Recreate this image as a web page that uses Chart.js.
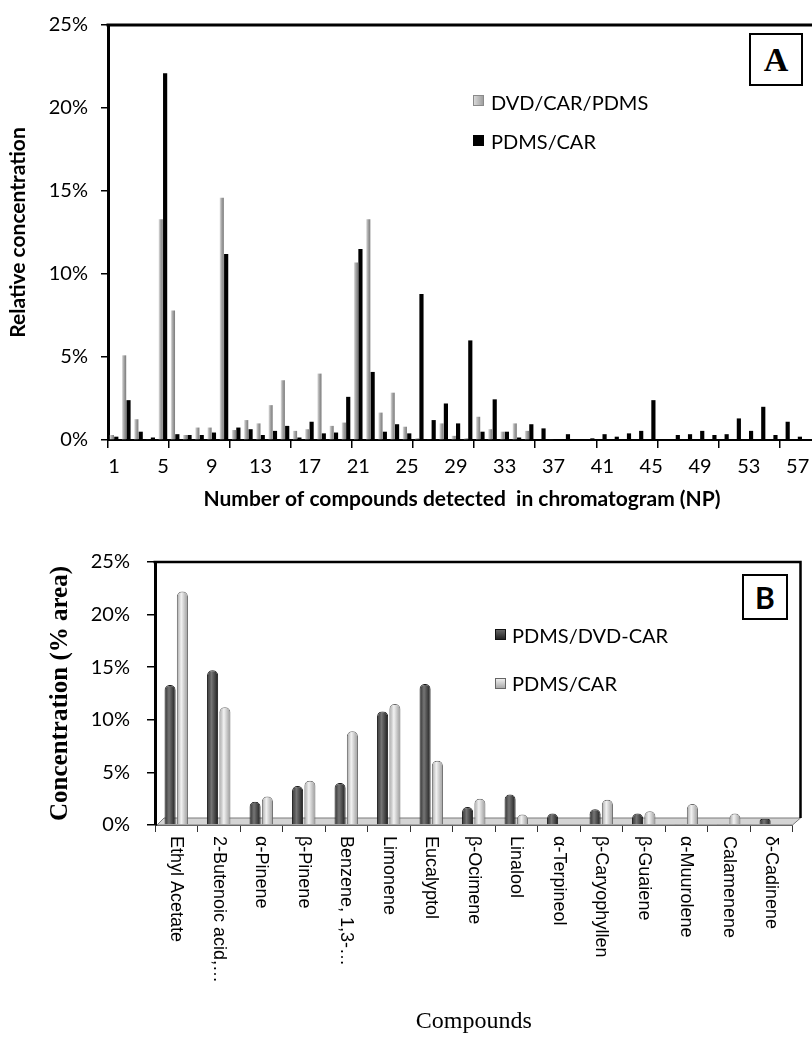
<!DOCTYPE html>
<html>
<head>
<meta charset="utf-8">
<title>Relative concentration of compounds</title>
<script src="https://cdn.jsdelivr.net/npm/chart.js@4.4.1/dist/chart.umd.min.js"></script>
<style>
  html, body { margin: 0; padding: 0; background: #fff; overflow: hidden; }
  #page { position: relative; width: 812px; height: 1047px; overflow: hidden; }
  canvas { position: absolute; left: 0; }
  #chartA { top: 0; }
  #chartB { top: 480px; }
  .txt { position: absolute; font-family: Lato, "Open Sans", sans-serif; font-size: 20px; line-height: 24px; color: #000; white-space: nowrap; }
  .sw { position: absolute; width: 11px; height: 11px; box-sizing: border-box; }
  .tag { position: absolute; border: 2px solid #000; box-sizing: border-box; text-align: center; font-weight: bold; background: #fff; }
</style>
</head>
<body>
<div id="page">
  <canvas id="chartA" width="830" height="520"></canvas>
  <canvas id="chartB" width="812" height="567"></canvas>

  <div class="sw" style="left:473px; top:95px; background:linear-gradient(90deg,#d8d8d8,#a0a0a0); border:1px solid #8a8a8a;"></div>
  <div class="txt" style="left:491px; top:90px;">DVD/CAR/PDMS</div>
  <div class="sw" style="left:473px; top:135px; background:#000;"></div>
  <div class="txt" style="left:491px; top:129px;">PDMS/CAR</div>
  <div class="tag" style="left:749px; top:33px; width:54px; height:53px; font-family:'Liberation Serif','Times New Roman',serif; font-size:34px; line-height:49px;">A</div>

  <div class="sw" style="left:495px; top:629px; background:linear-gradient(180deg,#666,#222); border:1px solid #111;"></div>
  <div class="txt" style="left:512px; top:623px;">PDMS/DVD-CAR</div>
  <div class="sw" style="left:495px; top:678px; background:linear-gradient(180deg,#eee,#aaa); border:1px solid #666;"></div>
  <div class="txt" style="left:512px; top:671px;">PDMS/CAR</div>
  <div class="tag" style="left:742px; top:574px; width:46px; height:46px; font-family:Lato,'Open Sans',sans-serif; font-size:30px; line-height:42px;">B</div>
</div>

<script>
// ---- data, chart A: relative concentration per peak number (NP) ----
var npLabels = [];
for (var a = 1; a <= 58; a++) {
  npLabels.push(String(a));
}

var dvdCarPdms = [0.3, 5.1, 1.25, 0.05, 13.3, 7.8, 0.3, 0.75, 0.75, 14.6,
                  0.6, 1.2, 1.0, 2.1, 3.6, 0.55, 0.65, 4.0, 0.85, 1.05,
                  10.7, 13.3, 1.65, 2.85, 0.8, 0.1, 0.05, 1.0, 0.25, 0.1,
                  1.4, 0.65, 0.5, 1.0, 0.55, 0, 0.05, 0, 0, 0,
                  0, 0, 0, 0, 0, 0, 0, 0, 0, 0,
                  0, 0, 0, 0, 0, 0, 0, 0];

var pdmsCarA = [0.2, 2.4, 0.5, 0.15, 22.1, 0.35, 0.3, 0.3, 0.45, 11.2,
                0.75, 0.65, 0.3, 0.55, 0.85, 0.15, 1.1, 0.4, 0.45, 2.6,
                11.5, 4.1, 0.5, 0.95, 0.4, 8.8, 1.2, 2.2, 1.0, 6.0,
                0.5, 2.45, 0.5, 0.15, 0.95, 0.7, 0.05, 0.35, 0.05, 0.1,
                0.35, 0.2, 0.4, 0.55, 2.4, 0.05, 0.3, 0.35, 0.55, 0.3,
                0.35, 1.3, 0.55, 2.0, 0.3, 1.1, 0.2, 0.05];

// ---- data, chart B: main compounds ----
var compounds = ["Ethyl Acetate", "2-Butenoic acid,\u2026", "\u03b1-Pinene", "\u03b2-Pinene",
                 "Benzene, 1,3-\u2026", "Limonene", "Eucalyptol", "\u03b2-Ocimene", "Linalool",
                 "\u03b1-Terpineol", "\u03b2-Caryophyllen", "\u03b2-Guaiene", "\u03b1-Muurolene",
                 "Calamenene", "\u03b4-Cadinene"];
var pdmsDvdCar = [13.3, 14.7, 2.2, 3.7, 4.0, 10.8, 13.4, 1.7, 2.9, 1.1, 1.5, 1.1, 0.1, 0.1, 0.6];
var pdmsCarB   = [22.2, 11.2, 2.7, 4.2, 8.9, 11.5, 6.1, 2.5, 1.0, 0, 2.4, 1.3, 2.0, 1.1, 0];

var yTicks = [0, 5, 10, 15, 20, 25];

var SANS = 'Lato, "Open Sans", sans-serif';
var SERIF = '"Liberation Serif", "Times New Roman", serif';
var ARIAL = '"Liberation Sans", Arial, sans-serif';

// horizontal gradient across a single bar, so bars look shaded like the original
function shaded(stops) {
  return function(c) {
    var chart = c.chart, xs = chart.scales.x;
    if (c.type !== 'data' || !xs) return stops[1];
    var ds = chart.data.datasets[c.datasetIndex];
    var n = chart.data.datasets.length;
    var w = xs.getPixelForValue(1) - xs.getPixelForValue(0);
    var group = w * ds.categoryPercentage;
    var bw = group / n * ds.barPercentage;
    var cx = xs.getPixelForValue(c.dataIndex) - group / 2 + group / n * (c.datasetIndex + 0.5);
    if (!isFinite(cx) || !isFinite(bw) || bw <= 0) return stops[1];
    var g = chart.ctx.createLinearGradient(cx - bw / 2, 0, cx + bw / 2, 0);
    g.addColorStop(0, stops[0]);
    g.addColorStop(0.4, stops[1]);
    g.addColorStop(1, stops[2]);
    return g;
  };
}

function every5(c) {
  return (c.index !== undefined && c.index % 5 === 0) ? '#000' : 'rgba(0,0,0,0)';
}

// top frame line of chart A (right side runs off the picture)
var frameA = {
  id: 'frameA',
  afterDatasetsDraw: function(chart) {
    var ar = chart.chartArea, ctx = chart.ctx;
    ctx.save();
    ctx.strokeStyle = '#000';
    ctx.lineWidth = 3;
    ctx.beginPath();
    ctx.moveTo(ar.left - 1.5, ar.top);
    ctx.lineTo(chart.width, ar.top);
    ctx.stroke();
    ctx.restore();
  }
};

// 3d floor, frame and vertical category labels of chart B
var floorB = {
  id: 'floorB',
  beforeDatasetsDraw: function(chart) {
    var ar = chart.chartArea, ctx = chart.ctx;
    ctx.save();
    ctx.beginPath();
    ctx.moveTo(ar.left + 2, ar.bottom);
    ctx.lineTo(ar.right, ar.bottom);
    ctx.lineTo(ar.right + 8, ar.bottom - 7);
    ctx.lineTo(ar.left + 9, ar.bottom - 7);
    ctx.closePath();
    ctx.fillStyle = '#d4d4d4';
    ctx.fill();
    ctx.strokeStyle = '#7a7a7a';
    ctx.lineWidth = 1;
    ctx.stroke();
    ctx.restore();
  },
  afterDatasetsDraw: function(chart) {
    var ar = chart.chartArea, ctx = chart.ctx;
    ctx.save();
    ctx.strokeStyle = '#000';
    ctx.lineWidth = 2.5;
    ctx.beginPath();
    ctx.moveTo(ar.left - 1.5, ar.top);
    ctx.lineTo(ar.right + 8, ar.top);
    ctx.lineTo(ar.right + 8, ar.bottom - 7);
    ctx.stroke();
    ctx.restore();
  },
  afterDraw: function(chart) {
    var ar = chart.chartArea, ctx = chart.ctx, xs = chart.scales.x;
    ctx.save();
    ctx.font = '18px ' + ARIAL;
    ctx.fillStyle = '#000';
    ctx.textAlign = 'left';
    ctx.textBaseline = 'middle';
    for (var i = 0; i < compounds.length; i++) {
      ctx.save();
      ctx.translate(xs.getPixelForValue(i), ar.bottom + 11);
      ctx.rotate(Math.PI / 2);
      ctx.fillText(compounds[i], 0, 0);
      ctx.restore();
    }
    ctx.restore();
  }
};

new Chart(document.getElementById('chartA'), {
  type: 'bar',
  data: {
    labels: npLabels,
    datasets: [
      { label: 'DVD/CAR/PDMS', data: dvdCarPdms, backgroundColor: shaded(['#e2e2e2', '#ababab', '#7a7a7a']),
        borderWidth: 0, categoryPercentage: 0.72, barPercentage: 0.95 },
      { label: 'PDMS/CAR', data: pdmsCarA, backgroundColor: '#000',
        borderWidth: 0, categoryPercentage: 0.72, barPercentage: 0.95 }
    ]
  },
  options: {
    responsive: false,
    animation: false,
    devicePixelRatio: 1,
    layout: { padding: { top: 15, right: 14, left: 0, bottom: 0 } },
    plugins: { legend: { display: false }, tooltip: { enabled: false } },
    scales: {
      x: {
        grid: { drawOnChartArea: false, drawTicks: true, tickLength: 8, lineWidth: 1.5, color: every5, tickColor: every5 },
        border: { display: true, color: '#000', width: 2 },
        ticks: {
          autoSkip: false, maxRotation: 0, minRotation: 0, padding: 7, color: '#000',
          font: { family: SANS, size: 20 },
          callback: function(v, i) { return i % 4 === 0 ? this.getLabelForValue(v) : ''; }
        },
        title: {
          display: true, text: 'Number of compounds detected  in chromatogram (NP)', color: '#000',
          font: { family: SANS, size: 21, weight: 'bold' }, padding: { top: 0, bottom: 8 }
        },
        afterFit: function(s) { s.height = 80; }
      },
      y: {
        min: 0, max: 25,
        afterBuildTicks: function(s) { s.ticks = yTicks.map(function(v) { return { value: v }; }); },
        ticks: { padding: 13, color: '#000', font: { family: SANS, size: 20 }, callback: function(v) { return v + '%'; } },
        grid: { drawOnChartArea: false, drawTicks: true, tickLength: 7, color: '#000', lineWidth: 1.5 },
        border: { display: true, color: '#000', width: 3 },
        title: {
          display: true, text: 'Relative concentration', color: '#000',
          font: { family: SANS, size: 21, weight: 'bold' }, padding: { top: 6, bottom: 6 }
        },
        afterFit: function(s) { s.width = 108; }
      }
    }
  },
  plugins: [frameA]
});

new Chart(document.getElementById('chartB'), {
  type: 'bar',
  data: {
    labels: compounds,
    datasets: [
      { label: 'PDMS/DVD-CAR', data: pdmsDvdCar, backgroundColor: shaded(['#2e2e2e', '#757575', '#1c1c1c']),
        borderColor: '#1a1a1a', borderWidth: 1,
        borderRadius: { topLeft: 5, topRight: 5, bottomLeft: 0, bottomRight: 0 },
        categoryPercentage: 0.58, barPercentage: 0.9 },
      { label: 'PDMS/CAR', data: pdmsCarB, backgroundColor: shaded(['#a4a4a4', '#f2f2f2', '#999999']),
        borderColor: '#6a6a6a', borderWidth: 1,
        borderRadius: { topLeft: 5, topRight: 5, bottomLeft: 0, bottomRight: 0 },
        categoryPercentage: 0.58, barPercentage: 0.9 }
    ]
  },
  options: {
    responsive: false,
    animation: false,
    devicePixelRatio: 1,
    layout: { padding: { top: 82, right: 19.5, left: 0, bottom: 0 } },
    plugins: { legend: { display: false }, tooltip: { enabled: false } },
    scales: {
      x: {
        grid: { drawOnChartArea: false, drawTicks: true, tickLength: 7, color: '#333', lineWidth: 1 },
        border: { display: true, color: '#555', width: 1 },
        ticks: { display: false },
        title: {
          display: true, text: 'Compounds', color: '#000',
          font: { family: SERIF, size: 24 }, padding: { top: 0, bottom: 11 }
        },
        afterFit: function(s) { s.height = 222; }
      },
      y: {
        min: 0, max: 25,
        afterBuildTicks: function(s) { s.ticks = yTicks.map(function(v) { return { value: v }; }); },
        ticks: { padding: 17, color: '#000', font: { family: SANS, size: 20 }, callback: function(v) { return v + '%'; } },
        grid: { drawOnChartArea: false, drawTicks: true, tickLength: 8, color: '#000', lineWidth: 1.5 },
        border: { display: true, color: '#000', width: 3 },
        title: {
          display: true, text: 'Concentration (% area)', color: '#000',
          font: { family: SERIF, size: 25, weight: 'bold' }, padding: { top: 46, bottom: 46 }
        },
        afterFit: function(s) { s.width = 155; }
      }
    }
  },
  plugins: [floorB]
});
</script>
</body>
</html>
